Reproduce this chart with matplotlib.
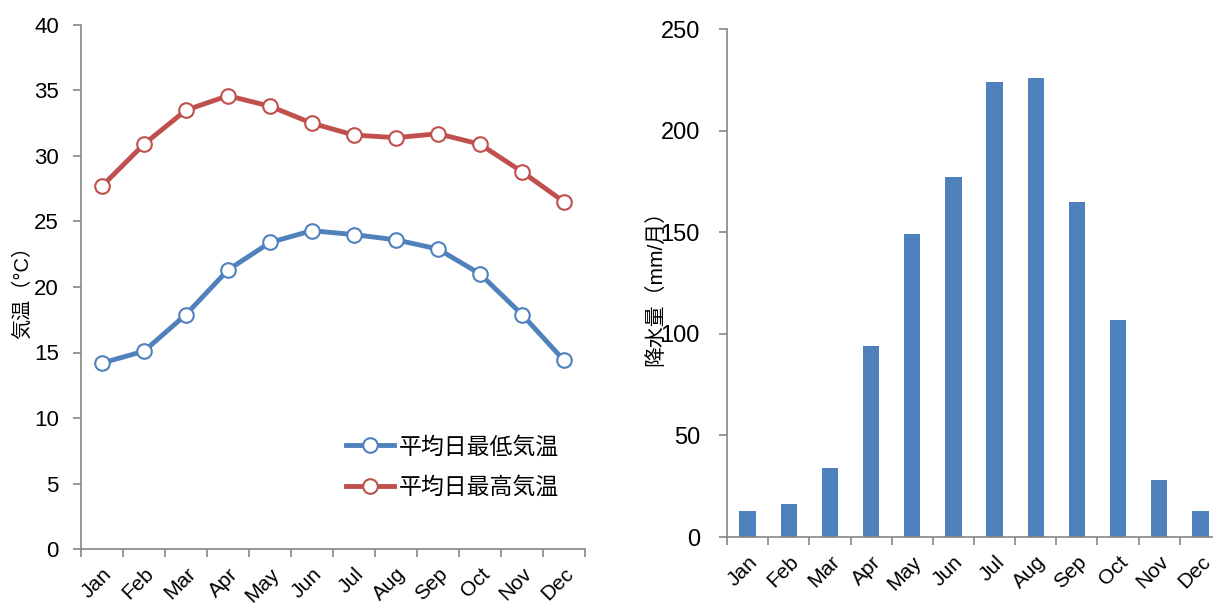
import matplotlib
matplotlib.use("Agg")
import matplotlib.pyplot as plt
import numpy as np

plt.rcParams['font.family'] = ['Liberation Sans', 'Noto Sans CJK JP', 'DejaVu Sans']

months = ["Jan", "Feb", "Mar", "Apr", "May", "Jun", "Jul", "Aug", "Sep", "Oct", "Nov", "Dec"]
temp_low = [14.2, 15.1, 17.9, 21.3, 23.4, 24.3, 24.0, 23.6, 22.9, 21.0, 17.9, 14.4]
temp_high = [27.7, 30.9, 33.5, 34.6, 33.8, 32.5, 31.6, 31.4, 31.7, 30.9, 28.8, 26.5]
precip = [13, 16, 34, 94, 149, 177, 224, 226, 165, 107, 28, 13]

BLUE = "#4F81BD"
RED = "#C0504D"
AXIS = "#868686"
W, H = 1213, 605


def style_axes(ax, ysize, ypad):
    # excel-like axes: only left and bottom, ticks outside at category borders
    for s in ["top", "right"]:
        ax.spines[s].set_visible(False)
    for s in ["left", "bottom"]:
        ax.spines[s].set_color(AXIS)
        ax.spines[s].set_linewidth(1.2)
    x = np.arange(len(months))
    ax.set_xlim(-0.5, len(months) - 0.5)
    ax.set_xticks(x)
    ax.set_xticklabels(months, rotation=45, ha="right", rotation_mode="anchor", fontsize=15)
    ax.set_xticks(np.arange(-0.5, len(months)), minor=True)
    ax.tick_params(axis="x", which="major", length=0, pad=11)
    ax.tick_params(axis="x", which="minor", length=6, color=AXIS, width=1.2, direction="out")
    ax.tick_params(axis="y", length=6, color=AXIS, width=1.2, direction="out",
                   labelsize=ysize, pad=ypad)


fig = plt.figure(figsize=(W / 100, H / 100), dpi=100)

# left: temperature
ax1 = fig.add_axes([81 / W, (H - 549) / H, (585 - 81) / W, (549 - 25) / H])
x = np.arange(len(months))
ax1.plot(x, temp_low, color=BLUE, lw=3.5, marker="o", ms=10.5, mfc="white", mec=BLUE, mew=1.5,
         label="平均日最低気温")
ax1.plot(x, temp_high, color=RED, lw=3.5, marker="o", ms=10.5, mfc="white", mec=RED, mew=1.5,
         label="平均日最高気温")
ax1.set_ylim(0, 40)
ax1.set_yticks(range(0, 41, 5))
style_axes(ax1, 16, 10)
ax1.set_ylabel("気温（°C）", fontsize=14.5)
ax1.yaxis.set_label_coords(-0.098, 0.5)
ax1.legend(loc="lower right", bbox_to_anchor=(0.975, 0.07), frameon=False, fontsize=16.5,
           handlelength=2.1, labelspacing=0.75, handletextpad=0.2, borderaxespad=0.2)

# right: precipitation
ax2 = fig.add_axes([727 / W, (H - 537) / H, 494 / W, (537 - 29) / H])
ax2.bar(x, precip, width=0.4, color=BLUE)
ax2.set_ylim(0, 250)
ax2.set_yticks(range(0, 251, 50))
style_axes(ax2, 17, 13.5)
ax2.set_ylabel("降水量（mm/月）", fontsize=15)
ax2.yaxis.set_label_coords(-0.125, 0.5)

fig.savefig("out.png", dpi=100)
